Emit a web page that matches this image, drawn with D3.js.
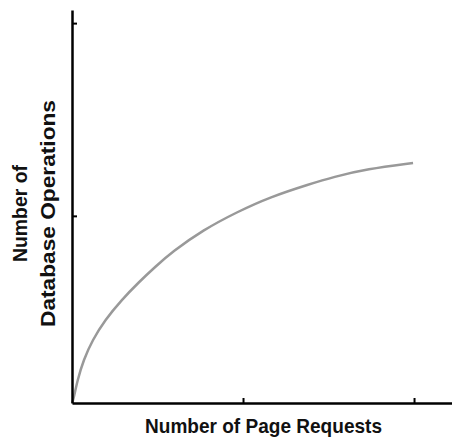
<!DOCTYPE html>
<html><head><meta charset="utf-8">
<script src="https://cdn.jsdelivr.net/npm/d3@7"></script>
<style>body{margin:0;background:#fff}</style>
</head><body>
<script>
const xValues = [0, 0.0076, 0.0322, 0.0673, 0.1199, 0.1930, 0.2895, 0.3918, 0.4854, 0.5848, 0.7661, 0.9649, 1.1579, 1.3918, 1.5263, 1.7251, 1.9942];
const yValues = [0, 0.016, 0.1229, 0.2298, 0.3366, 0.4436, 0.5504, 0.6466, 0.7267, 0.8069, 0.9244, 1.0206, 1.1008, 1.1703, 1.2076, 1.2504, 1.2825];
const xTicks = [1, 2];
const yTicks = [1, 2.03];
const xLabel = "Number of Page Requests";
const yLabelLines = ["Number of", "Database Operations"];

const W = 452, H = 438;
const svg = d3.select("body").append("svg").attr("width", W).attr("height", H);
const font = "'Liberation Sans','Arial',sans-serif";

const x = d3.scaleLinear().domain([0, 2.222]).range([72, 452]);
const y = d3.scaleLinear().domain([0, 2.1]).range([403, 10]);

const data = xValues.map((v, i) => [v, yValues[i]]);
svg.append("path").datum(data)
  .attr("fill", "none").attr("stroke", "#999").attr("stroke-width", 2.5)
  .attr("d", d3.line().x(d => x(d[0])).y(d => y(d[1])).curve(d3.curveBasis));

const xAxis = svg.append("g").attr("transform", "translate(0,403)")
  .call(d3.axisBottom(x).tickValues(xTicks).tickSize(-5).tickFormat("").tickSizeOuter(0));
xAxis.select(".domain").attr("stroke", "#000").attr("stroke-width", 2.5);
xAxis.selectAll(".tick line").attr("stroke", "#000").attr("stroke-width", 2);

const yAxis = svg.append("g").attr("transform", "translate(72,0)")
  .call(d3.axisLeft(y).tickValues(yTicks).tickSize(-5).tickFormat("").tickSizeOuter(0));
yAxis.select(".domain").attr("stroke", "#000").attr("stroke-width", 2.5);
yAxis.selectAll(".tick line").attr("stroke", "#000").attr("stroke-width", 2);

svg.append("text").attr("x", 263.5).attr("y", 433).attr("text-anchor", "middle")
  .attr("font-family", font).attr("font-size", 21).attr("font-weight", "bold")
  .attr("textLength", 237).attr("lengthAdjust", "spacingAndGlyphs")
  .attr("fill", "#111").text(xLabel);

const lens = [97, 227];
yLabelLines.forEach((t, i) => {
  svg.append("text").attr("transform", `translate(${27 + i * 28},213.5) rotate(-90)`)
    .attr("text-anchor", "middle").attr("font-family", font).attr("font-size", 21)
    .attr("font-weight", "bold").attr("fill", "#111")
    .attr("textLength", lens[i]).attr("lengthAdjust", "spacingAndGlyphs")
    .text(t);
});
</script>
</body></html>
